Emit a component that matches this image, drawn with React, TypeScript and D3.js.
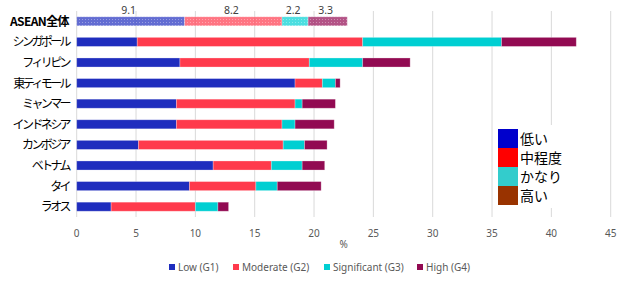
import React, { useEffect, useRef } from 'react';
import * as d3 from 'd3';

const countries = ['ASEAN全体', 'シンガポール', 'フィリピン', '東ティモール', 'ミャンマー', 'インドネシア', 'カンボジア', 'ベトナム', 'タイ', 'ラオス'];
const low = [9.1, 5.1, 8.7, 18.4, 8.4, 8.4, 5.2, 11.5, 9.5, 2.9];
const moderate = [8.2, 19.0, 10.9, 2.3, 10.0, 8.9, 12.2, 4.9, 5.6, 7.1];
const significant = [2.2, 11.7, 4.5, 1.1, 0.6, 1.1, 1.8, 2.6, 1.8, 1.9];
const high = [3.3, 6.3, 4.0, 0.4, 2.8, 3.3, 1.9, 1.9, 3.7, 0.9];

const seriesKeys = ['low', 'moderate', 'significant', 'high'];
const seriesNames = ['Low (G1)', 'Moderate (G2)', 'Significant (G3)', 'High (G4)'];
const seriesColors = ['#1F2DBE', '#FF3A4C', '#00CFD2', '#920A52'];

const boxLabels = ['低い', '中程度', 'かなり', '高い'];
const boxColors = ['#0000CC', '#FF0000', '#33CCCC', '#993300'];

const xTicks = [0, 5, 10, 15, 20, 25, 30, 35, 40, 45];

function StackedBars() {
  const svgRef = useRef(null);
  const width = 624;
  const height = 283;

  useEffect(() => {
    if (!svgRef.current) return;
    const svg = d3.select(svgRef.current);
    svg.selectAll('*').remove();

    const rows = countries.map((c, i) => ({
      country: c,
      low: low[i],
      moderate: moderate[i],
      significant: significant[i],
      high: high[i],
    }));
    const stacked = d3.stack().keys(seriesKeys)(rows);

    const x = d3.scaleLinear().domain([0, 45]).range([76.7, 610.7]);
    const y = d3.scaleBand().domain(countries).range([11, 217]).paddingInner(0.56).paddingOuter(0.28);

    // dotted fill for the regional total
    const defs = svg.append('defs');
    seriesColors.forEach((c, i) => {
      const p = defs.append('pattern')
        .attr('id', `dots${i}`)
        .attr('width', 3)
        .attr('height', 3)
        .attr('patternUnits', 'userSpaceOnUse');
      p.append('rect').attr('width', 3).attr('height', 3).attr('fill', c).attr('opacity', 0.8);
      p.append('rect').attr('width', 3).attr('height', 3).attr('fill', '#fff').attr('opacity', 0.12);
      p.append('rect').attr('x', 1).attr('y', 1).attr('width', 1).attr('height', 1).attr('fill', '#fff').attr('opacity', 0.35);
    });

    // gridlines
    svg.append('g')
      .selectAll('line')
      .data(xTicks)
      .enter()
      .append('line')
      .attr('x1', d => x(d))
      .attr('x2', d => x(d))
      .attr('y1', 11)
      .attr('y2', 217)
      .attr('stroke', '#D9D9D9')
      .attr('stroke-width', 1);

    // bars
    svg.append('g')
      .selectAll('g')
      .data(stacked)
      .enter()
      .append('g')
      .each(function (layer, li) {
        d3.select(this)
          .selectAll('rect')
          .data(layer)
          .enter()
          .append('rect')
          .attr('x', d => x(d[0]))
          .attr('y', d => y(d.data.country))
          .attr('width', d => x(d[1]) - x(d[0]))
          .attr('height', y.bandwidth())
          .attr('fill', (d, i) => (i === 0 ? `url(#dots${li})` : seriesColors[li]))
          .attr('stroke', '#ffffff')
          .attr('stroke-opacity', 0.35)
          .attr('stroke-width', 0.8);
      });

    // value labels above the regional total bar
    svg.append('g')
      .selectAll('text')
      .data(stacked)
      .enter()
      .append('text')
      .attr('x', layer => x((layer[0][0] + layer[0][1]) / 2) - 2)
      .attr('y', y(countries[0]) - 3)
      .attr('text-anchor', 'middle')
      .attr('font-family', '"Noto Sans", sans-serif')
      .attr('font-size', 10.5)
      .attr('fill', '#404040')
      .text(layer => d3.format('.1f')(layer[0][1] - layer[0][0]));

    // category labels
    svg.append('g')
      .selectAll('text')
      .data(countries)
      .enter()
      .append('text')
      .attr('x', 69)
      .attr('y', d => y(d) + y.bandwidth() / 2 + 4.5)
      .attr('text-anchor', 'end')
      .attr('font-family', '"Noto Sans CJK JP", sans-serif')
      .attr('font-size', 12)
      .attr('font-weight', (d, i) => (i === 0 ? 'bold' : 'normal'))
      .attr('letter-spacing', (d, i) => (i === 0 ? -0.6 : -2.6))
      .attr('fill', '#000')
      .text(d => d);

    // x axis tick labels
    svg.append('g')
      .selectAll('text')
      .data(xTicks)
      .enter()
      .append('text')
      .attr('x', d => x(d))
      .attr('y', 236.5)
      .attr('text-anchor', 'middle')
      .attr('font-family', '"Noto Sans", sans-serif')
      .attr('font-size', 10)
      .attr('fill', '#595959')
      .text(d => d);

    svg.append('text')
      .attr('x', (x(0) + x(45)) / 2)
      .attr('y', 248)
      .attr('text-anchor', 'middle')
      .attr('font-family', '"Noto Sans", sans-serif')
      .attr('font-size', 10)
      .attr('fill', '#595959')
      .text('%');

    // bottom legend
    const legendX = [169, 233, 324, 417];
    const legend = svg.append('g');
    seriesNames.forEach((name, i) => {
      legend.append('rect')
        .attr('x', legendX[i])
        .attr('y', 264)
        .attr('width', 6)
        .attr('height', 6)
        .attr('fill', seriesColors[i]);
      legend.append('text')
        .attr('x', legendX[i] + 9)
        .attr('y', 271)
        .attr('font-family', '"Noto Sans", sans-serif')
        .attr('font-size', 10)
        .attr('fill', '#595959')
        .text(name);
    });

    // boxed colour key on the right
    const key = svg.append('g');
    key.append('rect')
      .attr('x', 496)
      .attr('y', 125)
      .attr('width', 80)
      .attr('height', 83)
      .attr('fill', '#fff');
    boxLabels.forEach((label, i) => {
      key.append('rect')
        .attr('x', 498)
        .attr('y', 129 + i * 19)
        .attr('width', 20)
        .attr('height', 19)
        .attr('fill', boxColors[i]);
      key.append('text')
        .attr('x', 520)
        .attr('y', 129 + i * 19 + 15)
        .attr('font-family', '"Noto Sans CJK JP", sans-serif')
        .attr('font-size', 14)
        .attr('fill', '#000')
        .text(label);
    });
  }, []);

  return (
    <svg
      ref={svgRef}
      width={width}
      height={height}
      style={{ position: 'absolute', left: 0, top: 0, background: '#fff' }}
    />
  );
}

export default function App() {
  return <StackedBars />;
}
